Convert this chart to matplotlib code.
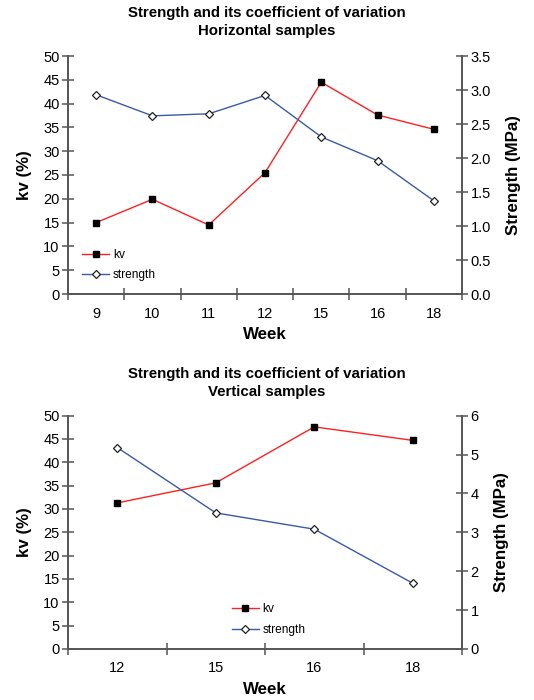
import matplotlib
matplotlib.use("Agg")
import matplotlib.pyplot as plt
from matplotlib.lines import Line2D
import numpy as np

plt.rcParams['font.family'] = ['Liberation Sans', 'DejaVu Sans']

# Horizontal samples
h_weeks = ["9", "10", "11", "12", "15", "16", "18"]
h_kv = [15.0, 19.9, 14.5, 25.5, 44.5, 37.6, 34.6]
h_strength = [2.93, 2.62, 2.65, 2.92, 2.31, 1.96, 1.37]

# Vertical samples
v_weeks = ["12", "15", "16", "18"]
v_kv = [31.3, 35.6, 47.6, 44.7]
v_strength = [5.18, 3.50, 3.08, 1.69]

h_right_ticks = [0.0, 0.5, 1.0, 1.5, 2.0, 2.5, 3.0, 3.5]
v_right_ticks = [0, 1, 2, 3, 4, 5, 6]

SPINE = '#555555'
RED = '#ff2020'
BLUE = '#3a5aa8'


def panel(fig, rect, title_lines, weeks, kv, strength, rticks, rfmt, legend_anchor, title_y):
    ax = fig.add_axes(rect)
    ax2 = ax.twinx()
    n = len(weeks)
    x = np.arange(n)

    ax.plot(x, kv, color=RED, lw=1.0, marker='s', ms=5, mfc='black', mec='black', zorder=3)
    ax2.plot(x, strength, color=BLUE, lw=1.0, marker='D', ms=3.6, mfc='white', mec='#222222', mew=0.9, zorder=3)

    ax.set_xlim(-0.5, n - 0.5)
    ax.set_ylim(0, 50)
    ax2.set_ylim(rticks[0], rticks[-1])

    ax.set_yticks(np.arange(0, 51, 5))
    ax.set_yticklabels([str(v) for v in range(0, 51, 5)], fontsize=10.5)
    ax2.set_yticks(rticks)
    ax2.set_yticklabels([rfmt.format(v) for v in rticks], fontsize=10.5)

    # category boundaries as ticks, labels at category centers
    ax.set_xticks(np.arange(-0.5, n, 1.0))
    ax.set_xticklabels([])
    ax.set_xticks(x, minor=True)
    ax.set_xticklabels(weeks, minor=True, fontsize=10.5)
    ax.tick_params(axis='x', which='minor', length=0, pad=9)
    ax.tick_params(axis='x', which='major', direction='inout', length=9, width=1.1, color=SPINE)
    ax.tick_params(axis='y', direction='inout', length=8, width=1.1, color=SPINE, pad=2)
    ax2.tick_params(axis='y', direction='inout', length=8, width=1.1, color=SPINE, pad=2)

    for a in (ax, ax2):
        a.spines['top'].set_visible(False)
        for s in ('left', 'right', 'bottom'):
            a.spines[s].set_color(SPINE)
            a.spines[s].set_linewidth(1.2)
        a.patch.set_visible(False)

    ax.set_ylabel('kv (%)', fontsize=12.2, fontweight='bold', labelpad=8)
    ax2.set_ylabel('Strength (MPa)', fontsize=12.2, fontweight='bold', labelpad=11)
    ax.set_xlabel('Week', fontsize=12.2, fontweight='bold', labelpad=5)

    handles = [
        Line2D([], [], color=RED, lw=1.0, marker='s', ms=5, mfc='black', mec='black'),
        Line2D([], [], color=BLUE, lw=1.0, marker='D', ms=3.6, mfc='white', mec='#222222', mew=0.9),
    ]
    ax.legend(handles, ['kv', 'strength'], loc='upper left', bbox_to_anchor=legend_anchor,
              frameon=False, fontsize=8.6, handlelength=2.3, handletextpad=0.3,
              labelspacing=0.7, borderaxespad=0, borderpad=0)

    for i, t in enumerate(title_lines):
        fig.text(0.5, title_y - i * 0.026, t, ha='center', va='center',
                 fontsize=10.8, fontweight='bold')
    return ax, ax2


fig = plt.figure(figsize=(5.34, 7.0), dpi=100)

panel(fig, [0.1273, 0.58, 0.738, 0.34],
      ["Strength and its coefficient of variation", "Horizontal samples"],
      h_weeks, h_kv, h_strength, h_right_ticks, "{:.1f}", (0.035, 0.19), 1 - 13 / 700)

panel(fig, [0.1273, 0.0729, 0.738, 0.3333],
      ["Strength and its coefficient of variation", "Vertical samples"],
      v_weeks, v_kv, v_strength, v_right_ticks, "{:d}", (0.415, 0.195), 1 - 374 / 700)

fig.savefig('out.png', dpi=100)
